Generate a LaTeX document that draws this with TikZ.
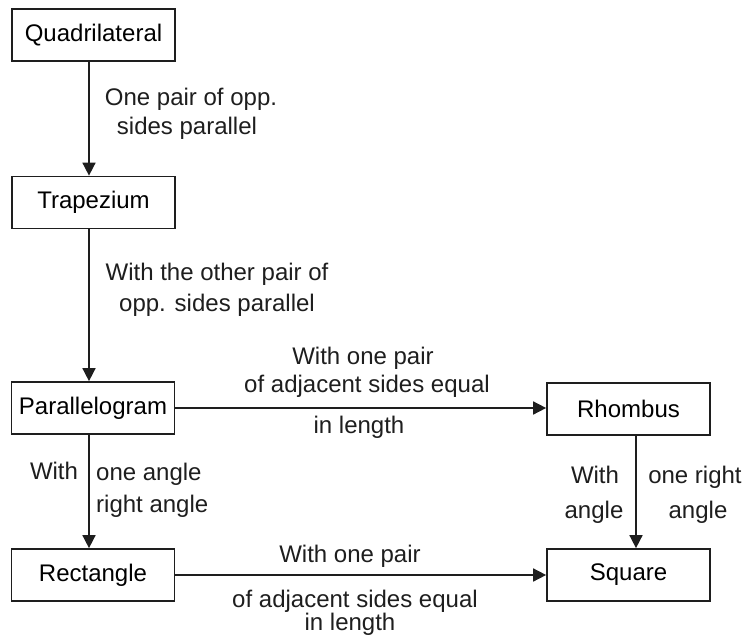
\documentclass[tikz,border=0pt]{standalone}
\usepackage{fontspec}
\setmainfont{Liberation Sans}
\usetikzlibrary{arrows.meta}
\definecolor{ink}{HTML}{1E1E1E}
\begin{document}
\begin{tikzpicture}[x=1pt,y=-1pt,
  box/.style={draw=ink, line width=1.7pt, minimum width=163pt, minimum height=52pt, inner sep=0pt, font=\fontsize{24}{30}\selectfont},
  lbl/.style={anchor=base, inner sep=0pt, text=ink, font=\fontsize{24}{30}\selectfont},
  lbll/.style={anchor=base west, inner sep=0pt, text=ink, font=\fontsize{24}{30}\selectfont},
  arr/.style={draw=ink, line width=1.6pt, -{Triangle[length=13pt,width=13pt]}}]
\useasboundingbox (0,0) rectangle (747,639);
\fill[white] (0,0) rectangle (747,639);
% boxes
\node[box] (Q)  at (93.5,35)   {Quadrilateral};
\node[box] (T)  at (93.5,202.5) {Trapezium};
\node[box] (P)  at (93,408)    {Parallelogram};
\node[box] (Rh) at (628.5,409) {Rhombus};
\node[box] (R)  at (93,575)    {Rectangle};
\node[box] (S)  at (628.5,575) {Square};
% connectors
\draw[arr] ([xshift=-4.5pt]Q.south) -- ([xshift=-4.5pt]T.north);
\draw[arr] ([xshift=-4.5pt]T.south) -- ([xshift=-4.5pt]T.south |- P.north);
\draw[arr] ([xshift=-4pt]P.south) -- ([xshift=-4pt]R.north);
\draw[arr] (P.east) -- (P.east -| Rh.west);
\draw[arr] (R.east) -- (R.east -| S.west);
\draw[arr] ([xshift=7.5pt]Rh.south) -- ([xshift=7.5pt]S.north);
% labels
\node[lbl] (a1) at (191,106) {One pair of opp.};
\node[lbl] (a2) at (187,135) {sides parallel};
\node[lbl] (b1) at (217,280) {With the other pair of};
\node[lbl] (b2) at (217,311) {opp. sides parallel};
\node[lbl] (c1) at (363,364) {With one pair};
\node[lbl] (c2) at (367,392) {of adjacent sides equal};
\node[lbl] (c3) at (359,433) {in length};
\node[lbl] (d1) at (54,479) {With};
\node[lbll] (d2) at (96,480) {one angle};
\node[lbll] (d3) at (96,512) {right angle};
\node[lbl] (e1) at (595,483) {With};
\node[lbl] (e2) at (594,518) {angle};
\node[lbl] (e3) at (695,483) {one right};
\node[lbl] (e4) at (698,518) {angle};
\node[lbl] (f1) at (350,562) {With one pair};
\node[lbl] (f2) at (355,607) {of adjacent sides equal};
\node[lbl] (f3) at (350,630) {in length};
\end{tikzpicture}
\end{document}
